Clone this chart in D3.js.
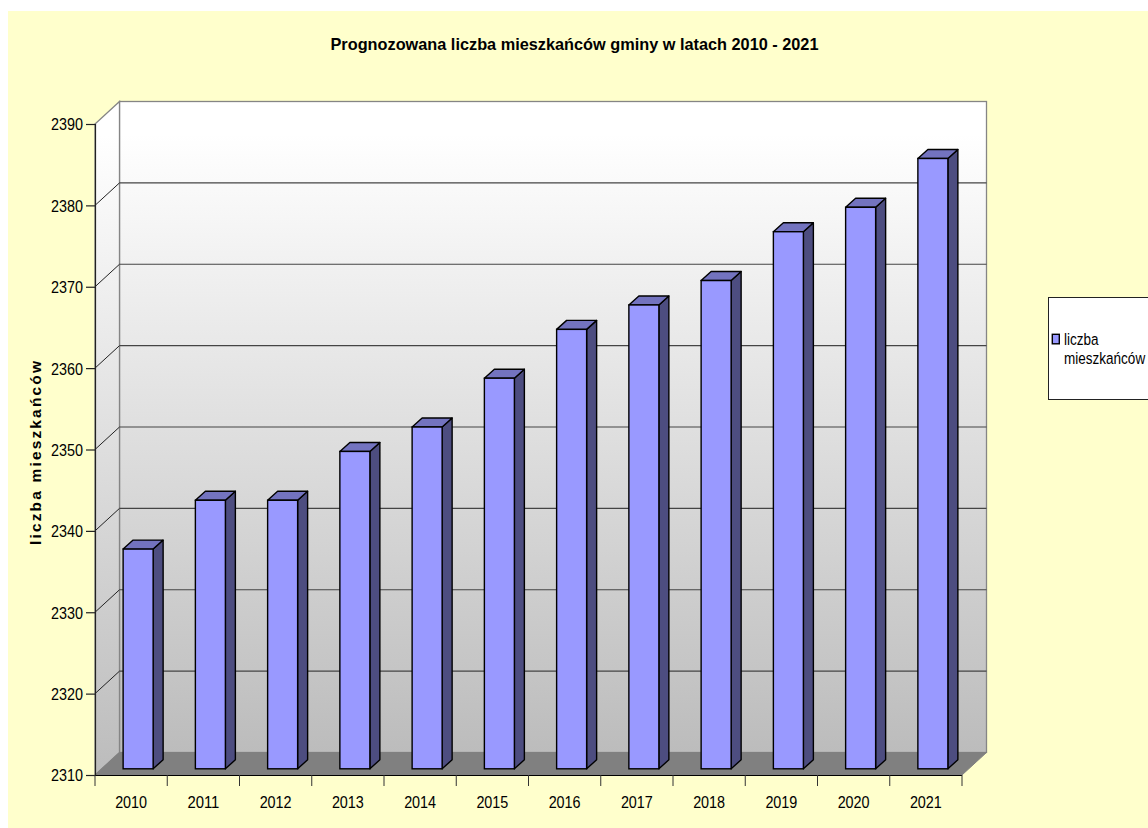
<!DOCTYPE html>
<html><head><meta charset="utf-8">
<script src="https://cdn.jsdelivr.net/npm/d3@7/dist/d3.min.js"></script>
<style>html,body{margin:0;padding:0;background:#fff}svg{display:block}text{font-family:"Liberation Sans",Arial,sans-serif;fill:#000}</style>
</head><body><svg id="c" width="1148" height="828"></svg>
<script>
const categories=["2010","2011","2012","2013","2014","2015","2016","2017","2018","2019","2020","2021"];
const values=[2337,2343,2343,2349,2352,2358,2364,2367,2370,2376,2379,2385];
const yTicks=[2310,2320,2330,2340,2350,2360,2370,2380,2390];
const chartTitle="Prognozowana liczba mieszkańców gminy w latach 2010 - 2021";
const yTitle="liczba mieszkańców";
const legendLines=["liczba","mieszkańców"];

const svg=d3.select("#c");
const dx=24.5,dy=-22.5,barDx=7,barDy=-6.2,barDepthX=10,barDepthY=-9,barW=30;
const x=d3.scaleBand().domain(categories).range([95,962]);
const y=d3.scaleLinear().domain([2310,2390]).range([775,124]);
const path=p=>"M"+p.map(a=>a.join(",")).join("L")+"Z";

const defs=svg.append("defs");
const g=defs.append("linearGradient").attr("id","wall").attr("x1",0).attr("y1",0).attr("x2",0).attr("y2",1);
g.append("stop").attr("offset",0.05).attr("stop-color","#fff");
g.append("stop").attr("offset",1).attr("stop-color","#bcbcbc");

const x0=x.range()[0],x1=x.range()[1],yb=y(2310),yt=y(2390);
svg.append("rect").attr("x",8).attr("y",11).attr("width",1140).attr("height",817).attr("fill","#FFFFCC");
svg.append("rect").attr("x",x0+dx).attr("y",yt+dy).attr("width",x1-x0).attr("height",yb-yt)
  .attr("fill","url(#wall)").attr("stroke","#858585").attr("stroke-width",1.3);
svg.append("path").attr("d",path([[x0,yb],[x0+dx,yb+dy],[x0+dx,yt+dy],[x0,yt]]))
  .attr("fill","url(#wall)").attr("stroke","#858585").attr("stroke-width",1.3);
yTicks.slice(1,-1).forEach(t=>{
  svg.append("path").attr("fill","none").attr("stroke","#222").attr("stroke-width",1)
    .attr("d",`M${x0},${y(t)}L${x0+dx},${y(t)+dy}`);
  svg.append("path").attr("fill","none").attr("stroke","#444").attr("stroke-width",1.2)
    .attr("d",`M${x0+dx},${y(t)+dy}L${x1+dx},${y(t)+dy}`);
});
svg.append("path").attr("d",path([[x0,yb],[x0+dx,yb+dy],[x1+dx,yb+dy],[x1,yb]])).attr("fill","#808080").attr("stroke","#808080");
const bars=svg.selectAll("g.bar").data(categories.map((c,i)=>({c,v:values[i]}))).join("g").attr("class","bar");
const bx=d=>x(d.c)+x.bandwidth()/2-barW/2+barDx;
const base=yb+barDy,barTop=d=>y(d.v)+barDy;
bars.append("path").attr("fill","#4D4D80").attr("stroke","#000").attr("stroke-width",1.4).attr("stroke-linejoin","round")
  .attr("d",d=>path([[bx(d)+barW,base],[bx(d)+barW+barDepthX,base+barDepthY],[bx(d)+barW+barDepthX,barTop(d)+barDepthY],[bx(d)+barW,barTop(d)]]));
bars.append("path").attr("fill","#7373BF").attr("stroke","#000").attr("stroke-width",1.4).attr("stroke-linejoin","round")
  .attr("d",d=>path([[bx(d),barTop(d)],[bx(d)+barDepthX,barTop(d)+barDepthY],[bx(d)+barW+barDepthX,barTop(d)+barDepthY],[bx(d)+barW,barTop(d)]]));
bars.append("rect").attr("fill","#9999FF").attr("stroke","#000").attr("stroke-width",1.4)
  .attr("x",bx).attr("y",barTop).attr("width",barW).attr("height",d=>base-barTop(d));
const ay=svg.append("g").attr("transform",`translate(${x0},0)`).call(d3.axisLeft(y).tickValues(yTicks).tickSize(9).tickPadding(3).tickFormat(d3.format("d")));
ay.selectAll("line,path").attr("stroke","#222").attr("stroke-width",1.2);
ay.selectAll("text").attr("font-size",17).attr("textLength",32).attr("lengthAdjust","spacingAndGlyphs").attr("dy","0.35em");
ay.select(".domain").attr("d",`M0.5,${yt}V${yb}`);
const ax=svg.append("g").attr("transform",`translate(0,${yb})`);
ax.append("line").attr("x1",x0).attr("x2",x1).attr("y1",0.5).attr("y2",0.5).attr("stroke","#000").attr("stroke-width",1.2);
[...categories.map(c=>x(c)),x1].forEach(p=>ax.append("line").attr("x1",p).attr("x2",p).attr("y1",0).attr("y2",11).attr("stroke","#333"));
ax.selectAll("text").data(categories).join("text").attr("x",c=>x(c)+x.bandwidth()/2).attr("y",32.5).attr("text-anchor","middle").attr("font-size",17).attr("textLength",32).attr("lengthAdjust","spacingAndGlyphs").text(c=>c);
svg.append("text").attr("x",574.5).attr("y",50).attr("text-anchor","middle").attr("font-size",17).attr("font-weight","bold").attr("textLength",488).attr("lengthAdjust","spacingAndGlyphs").text(chartTitle);
svg.append("text").attr("transform","translate(41,453) rotate(-90)").attr("text-anchor","middle").attr("font-size",15.5).attr("font-weight","bold").attr("textLength",184).attr("lengthAdjust","spacing").text(yTitle);
const lg=svg.append("g");
lg.append("rect").attr("x",1048.5).attr("y",297.5).attr("width",110).attr("height",102).attr("fill","#fff").attr("stroke","#222");
lg.append("rect").attr("x",1052.3).attr("y",334.3).attr("width",7).attr("height",9.5).attr("fill","#9999FF").attr("stroke","#000").attr("stroke-width",1.4);
lg.selectAll("text").data(legendLines).join("text").attr("transform",(d,i)=>`translate(1064,${345+i*18.5}) scale(0.82,1)`).attr("font-size",16.5).text(d=>d);
</script></body></html>
